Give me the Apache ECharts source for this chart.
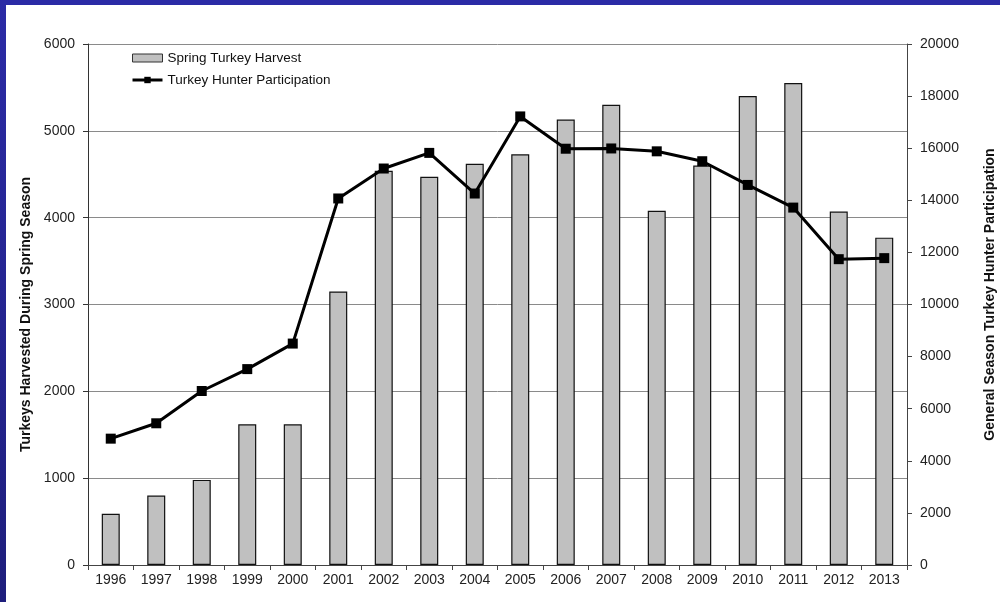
<!DOCTYPE html>
<html>
<head>
<meta charset="utf-8">
<script src="https://cdn.jsdelivr.net/npm/echarts@6/dist/echarts.min.js"></script>
<style>
html,body{margin:0;padding:0;background:#fff;}
#chart{width:1000px;height:602px;}
</style>
</head>
<body>
<div id="chart"></div>
<script>
const years = ['1996','1997','1998','1999','2000','2001','2002','2003','2004','2005','2006','2007','2008','2009','2010','2011','2012','2013'];
const harvest = [590, 800, 980, 1620, 1620, 3150, 4540, 4470, 4620, 4730, 5130, 5300, 4080, 4600, 5400, 5550, 4070, 3770];
const hunters = [4850, 5440, 6680, 7520, 8500, 14070, 15220, 15820, 14260, 17220, 15980, 15990, 15880, 15500, 14590, 13720, 11740, 11780];
const leftTicks = {min: 0, max: 6000, interval: 1000};
const rightTicks = {min: 0, max: 20000, interval: 2000};

const chart = echarts.init(document.getElementById('chart'));
const font = 'Liberation Sans, Arial, sans-serif';
const plain = v => String(v);
chart.setOption({
  animation: false,
  textStyle: {fontFamily: font},
  graphic: [
    {type: 'rect', shape: {x: 0, y: 0, width: 1000, height: 5}, style: {fill: '#2b2ba6'}, z: 100},
    {type: 'rect', shape: {x: 0, y: 0, width: 6, height: 602},
     style: {fill: new echarts.graphic.LinearGradient(0, 0, 0, 1, [{offset: 0, color: '#2b2ba6'}, {offset: 1, color: '#1e1e7c'}])}, z: 100}
  ],
  grid: {left: 88, right: 93, top: 44, bottom: 37, containLabel: false, outerBoundsMode: 'none'},
  legend: {
    orient: 'vertical', left: 126, top: 46, itemWidth: 30, itemHeight: 8, itemGap: 8,
    textStyle: {fontFamily: font, fontSize: 13.5, color: '#111'},
    data: [
      {name: 'Spring Turkey Harvest', icon: 'rect', itemStyle: {borderColor: '#333', borderWidth: 1}},
      {name: 'Turkey Hunter Participation', lineStyle: {width: 3}}
    ]
  },
  xAxis: {
    type: 'category', data: years, boundaryGap: true,
    axisLine: {lineStyle: {color: '#444', width: 1}},
    axisTick: {show: true, length: 5, lineStyle: {color: '#444'}},
    axisLabel: {fontSize: 14, color: '#222', margin: 8, fontFamily: font, interval: 0}
  },
  yAxis: [
    {
      type: 'value', min: leftTicks.min, max: leftTicks.max, interval: leftTicks.interval,
      name: 'Turkeys Harvested During Spring Season', nameLocation: 'middle', nameGap: 39,
      nameTextStyle: {fontSize: 14, fontWeight: 'bold', color: '#111', fontFamily: font, padding: [0, 20, 0, 0]},
      axisLine: {show: true, lineStyle: {color: '#333', width: 1}},
      axisTick: {show: true, length: 5, lineStyle: {color: '#333'}},
      axisLabel: {fontSize: 14, color: '#222', margin: 13, fontFamily: font, formatter: plain},
      splitLine: {show: true, lineStyle: {color: '#8a8a8a', width: 1}}
    },
    {
      type: 'value', min: rightTicks.min, max: rightTicks.max, interval: rightTicks.interval,
      position: 'right',
      name: 'General Season Turkey Hunter Participation', nameLocation: 'middle', nameGap: 76, nameRotate: 90,
      nameTextStyle: {fontSize: 14, fontWeight: 'bold', color: '#111', fontFamily: font, padding: [0, 0, 0, 20]},
      axisLine: {show: true, lineStyle: {color: '#444', width: 1}},
      axisTick: {show: true, length: 5, lineStyle: {color: '#444'}},
      axisLabel: {fontSize: 14, color: '#222', margin: 13, fontFamily: font, formatter: plain},
      splitLine: {show: false}
    }
  ],
  series: [
    {
      name: 'Spring Turkey Harvest', type: 'bar', yAxisIndex: 0, data: harvest,
      barWidth: 18,
      itemStyle: {color: '#c0c0c0', borderColor: '#111', borderWidth: 1.2}
    },
    {
      name: 'Turkey Hunter Participation', type: 'line', yAxisIndex: 1, data: hunters,
      symbol: 'rect', symbolSize: 10,
      lineStyle: {color: '#000', width: 3},
      itemStyle: {color: '#000'}
    }
  ]
});
</script>
</body>
</html>
